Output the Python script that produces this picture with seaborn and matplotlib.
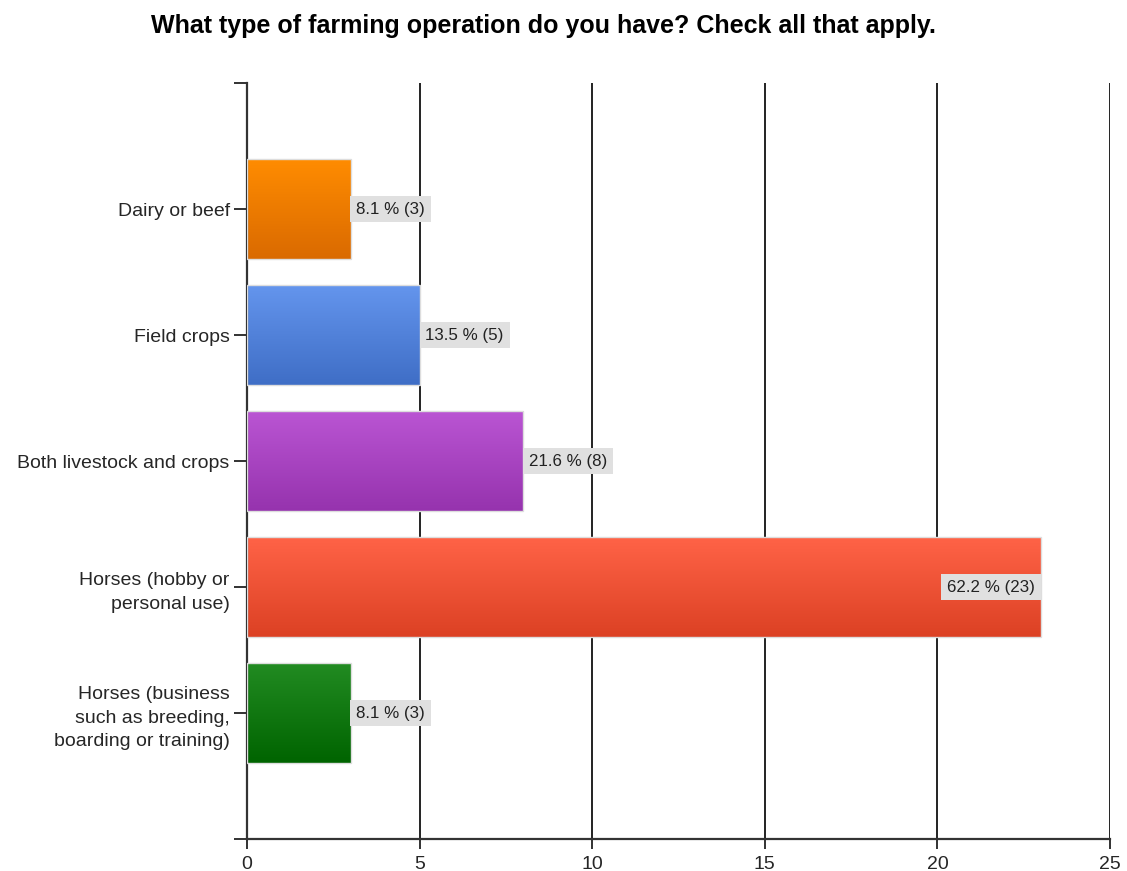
import numpy as np
import pandas as pd
import matplotlib
matplotlib.use("Agg")
import matplotlib.pyplot as plt
import matplotlib.colors as mcolors
import seaborn as sns

categories = ["Dairy or beef", "Field crops", "Both livestock and crops",
              "Horses (hobby or\npersonal use)",
              "Horses (business\nsuch as breeding,\nboarding or training)"]
counts = [3, 5, 8, 23, 3]
percents = [8.1, 13.5, 21.6, 62.2, 8.1]
top_colors = ["#FF8C00", "#6495ED", "#BA55D3", "#FF6347", "#228B22"]
bottom_colors = ["#DA6A00", "#3F6EC6", "#9633AE", "#DC4124", "#006400"]
x_ticks = [0, 5, 10, 15, 20, 25]

sns.set_theme(style="white")
plt.rcParams['font.family'] = ['Liberation Sans', 'DejaVu Sans']

df = pd.DataFrame({"category": categories, "count": counts})

fig = plt.figure(figsize=(11.27, 8.71), dpi=100)
ax = fig.add_axes([247/1127, 1-839/871, (1110-247)/1127, (839-83)/871])

sns.barplot(data=df, y="category", x="count", orient="h", ax=ax,
            width=0.79, color="white", edgecolor="#DDDDDD", linewidth=1.0,
            saturation=1)

ax.set_xlim(0, 25)
ax.set_ylim(5, -1)

# gradients
for patch, c_top, c_bot in zip(ax.patches, top_colors, bottom_colors):
    x0 = patch.get_x()
    w = patch.get_width()
    y0 = patch.get_y()
    h = patch.get_height()
    t = np.array(mcolors.to_rgb(c_top))
    b = np.array(mcolors.to_rgb(c_bot))
    n = 100
    frac = np.linspace(0, 1, n)[:, None]
    grad = (t[None, :] * (1 - frac) + b[None, :] * frac)[:, None, :]
    im = ax.imshow(grad, extent=(x0, x0 + w, y0 + h, y0), origin="upper",
                   aspect="auto", zorder=2, interpolation="bilinear")
    im.set_clip_path(patch)
    patch.set_zorder(3)
    patch.set_facecolor("none")

ax.set_xlim(0, 25)
ax.set_ylim(5, -1)
ax.set_aspect("auto")

# grid lines
for xv in x_ticks[1:]:
    ax.axvline(xv, color="#222222", lw=1.4, zorder=1)

ax.set_xticks(x_ticks)
ax.set_xticklabels([str(v) for v in x_ticks], fontsize=14)
ax.set_yticks([-1, 0, 1, 2, 3, 4, 5])
ax.set_yticklabels([""] + categories + [""], fontsize=14, linespacing=1.5)
ax.tick_params(axis="x", length=7, width=1.3, color="#222222", pad=5, bottom=True)
ax.tick_params(axis="y", length=9.5, width=1.3, color="#222222", pad=3, left=True)
ax.set_xlabel("")
ax.set_ylabel("")

for s in ["top", "right"]:
    ax.spines[s].set_visible(False)
for s in ["left", "bottom"]:
    ax.spines[s].set_color("#333333")
    ax.spines[s].set_linewidth(1.6)

# value labels
for i, (c, p) in enumerate(zip(counts, percents)):
    label = f"{p} % ({c})"
    if c > 20:
        ax.annotate(label, xy=(c, i), xytext=(-4.2, 0), textcoords="offset points",
                    ha="right", va="center", fontsize=12.2, color="#222222", zorder=5,
                    bbox=dict(boxstyle="square,pad=0.35", fc="#E0E0E0", ec="none"))
    else:
        ax.annotate(label, xy=(c, i), xytext=(4.2, 0), textcoords="offset points",
                    ha="left", va="center", fontsize=12.2, color="#222222", zorder=5,
                    bbox=dict(boxstyle="square,pad=0.35", fc="#E0E0E0", ec="none"))

fig.text(543/1127, 1-26/871, "What type of farming operation do you have? Check all that apply.",
         ha="center", va="center", fontsize=18, fontweight="bold", color="black")

fig.savefig("out.png", dpi=100, facecolor="white")
